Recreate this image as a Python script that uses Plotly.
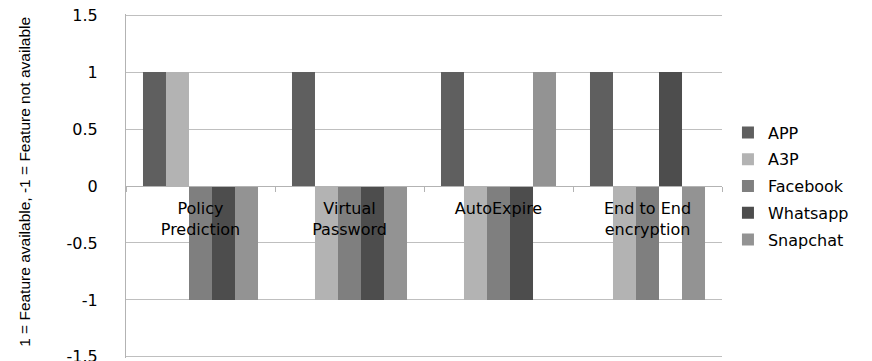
import plotly.graph_objects as go

categories = ["Policy<br>Prediction", "Virtual<br>Password", "AutoExpire", "End to End<br>encryption"]
series_names = ["APP", "A3P", "Facebook", "Whatsapp", "Snapchat"]
app = [1, 1, 1, 1]
a3p = [1, -1, -1, -1]
facebook = [-1, -1, -1, -1]
whatsapp = [-1, -1, -1, 1]
snapchat = [-1, -1, 1, -1]
y_tick_vals = [1.5, 1, 0.5, 0, -0.5, -1, -1.5]
y_tick_text = ["1.5", "1", "0.5", "0", "-0.5", "-1", "-1.5"]
y_title = "1 = Feature available, -1 = Feature not available"

colors = ["#5f5f5f", "#b3b3b3", "#7f7f7f", "#4d4d4d", "#939393"]
series_values = [app, a3p, facebook, whatsapp, snapchat]

fig = go.Figure()
for name, vals, col in zip(series_names, series_values, colors):
    fig.add_trace(go.Bar(x=categories, y=vals, name=name, marker_color=col,
                         marker_line_width=0, legendgroup=name))

W, H = 872, 361
ml, mr, mt, mb = 126, 150, 14, 3
fig.update_layout(
    width=W, height=H,
    margin=dict(l=ml, r=mr, t=mt, b=mb, pad=0, autoexpand=False),
    paper_bgcolor="white", plot_bgcolor="white",
    barmode="group", bargap=0.228, bargroupgap=0,
    font=dict(family="DejaVu Sans", size=16, color="black"),
    showlegend=True,
    legend=dict(x=1.01, xanchor="left", y=0.5, yanchor="middle",
                traceorder="grouped", tracegroupgap=3,
                font=dict(family="DejaVu Sans", size=16, color="black"),
                bgcolor="rgba(0,0,0,0)"),
    xaxis=dict(anchor="free", position=0.5, showline=True, linecolor="#b3b3b3",
               linewidth=1, ticks="outside", tickson="boundaries", ticklen=5,
               tickcolor="#b3b3b3", showgrid=False, zeroline=False, automargin=False,
               tickfont=dict(family="DejaVu Sans", size=16, color="black"),
               ticklabelstandoff=8),
    yaxis=dict(range=[-1.51, 1.51], tickvals=y_tick_vals, ticktext=y_tick_text,
               showgrid=True, gridcolor="#bfbfbf", gridwidth=1, zeroline=False,
               showline=True, linecolor="#b3b3b3", linewidth=1, ticks="",
               ticklabelstandoff=24, ticklabeloverflow="allow", automargin=False,
               tickfont=dict(family="DejaVu Sans", size=16, color="black")),
    annotations=[dict(text=y_title, textangle=-90, xref="paper", yref="paper",
                      x=(25 - ml) / (W - ml - mr), y=0.512, xanchor="center",
                      yanchor="middle", showarrow=False,
                      font=dict(family="Liberation Sans Narrow, Liberation Sans", size=15.5,
                                color="black"))],
)

fig.write_html("out.html")
